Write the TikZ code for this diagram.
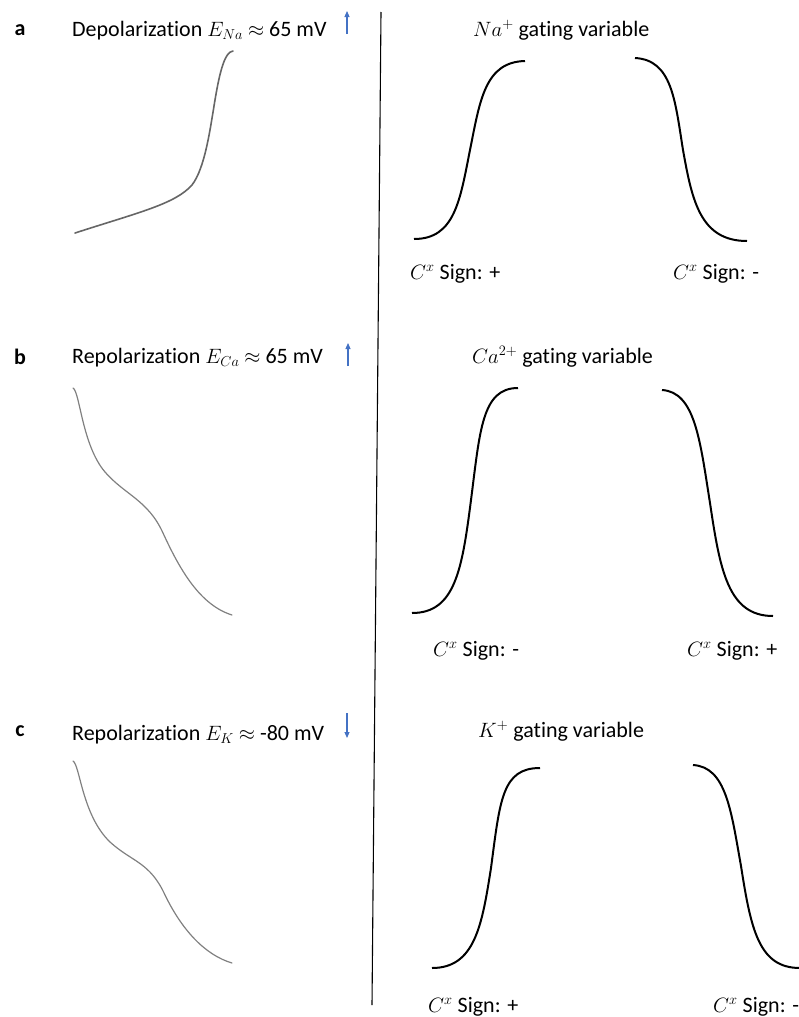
\documentclass[tikz,border=0pt]{standalone}
\usepackage{fontspec}
\setmainfont{Carlito}[Ligatures=NoCommon]
\usetikzlibrary{arrows.meta}
\begin{document}
\begin{tikzpicture}[x=1pt,y=-1pt,
  lbl/.style={inner sep=0pt,anchor=base west,font=\fontsize{22}{26}\selectfont},
  panel/.style={inner sep=0pt,anchor=base,font=\fontsize{22}{26}\selectfont\bfseries},
  volt/.style={draw=black!60,line width=1.6pt,line cap=round},
  vgray/.style={draw=black!50,line width=1.2pt,line cap=round},
  gate/.style={draw=black,line width=2pt},
  blu/.style={draw={rgb,255:red,68;green,114;blue,196},line width=1.1pt,-{Triangle[length=6pt,width=5pt]}}]
\useasboundingbox (0,0) rectangle (798,1017);
% divider
\coordinate (dtop) at (381,12);
\coordinate (dbot) at (372,1005);
\draw[line width=1.1pt] (dtop) -- (dbot);
% ---- panel a
\node[panel] (pa) at (20,35) {a};
\node[lbl] (ta) at (72,36) {Depolarization $E_{Na}$ $\approx$ 65 mV};
\coordinate (a1) at (347,34); \coordinate (a2) at (347,11);
\draw[blu] (a1) -- (a2);
\draw[volt] (75,233) .. controls (140,212) and (175,204) .. (192,185) .. controls (205,168) and (210,130) .. (215,100) .. controls (220,70) and (225,52) .. (233,51);
\node[lbl] (ga) at (473,36) {$Na^{+}$ gating variable};
\draw[gate] (414,239) .. controls (455,239) and (460,200) .. (470,150) .. controls (480,100) and (485,62) .. (525,61);
\draw[gate] (635,58) .. controls (672,60) and (675,100) .. (683,150) .. controls (692,200) and (700,241) .. (747,241);
\node[lbl] (sa1) at (410,279) {$C^{x}$ Sign: +};
\node[lbl] (sa2) at (673,279) {$C^{x}$ Sign: -};
% ---- panel b
\node[panel] (pb) at (20,364) {b};
\node[lbl] (tb) at (72,363) {Repolarization $E_{Ca}$ $\approx$ 65 mV};
\coordinate (b1) at (348,366); \coordinate (b2) at (348,343);
\draw[blu] (b1) -- (b2);
\draw[vgray] (73,388) .. controls (80,392) and (82,445) .. (105,472) .. controls (125,495) and (148,500) .. (163,533) .. controls (180,570) and (200,605) .. (232,615);
\node[lbl] (gb) at (472,363) {$Ca^{2+}$ gating variable};
\draw[gate] (412,613) .. controls (455,613) and (462,570) .. (471,500) .. controls (480,430) and (482,388) .. (518,388);
\draw[gate] (662,390) .. controls (695,392) and (700,440) .. (710,503) .. controls (720,570) and (728,616) .. (773,616);
\node[lbl] (sb1) at (433,656) {$C^{x}$ Sign: -};
\node[lbl] (sb2) at (687,656) {$C^{x}$ Sign: +};
% ---- panel c
\node[panel] (pc) at (20,736) {c};
\node[lbl] (tc) at (72,740) {Repolarization $E_{K}$ $\approx$ -80 mV};
\coordinate (c1) at (347,713); \coordinate (c2) at (347,738);
\draw[blu] (c1) -- (c2);
\draw[vgray] (73,761) .. controls (80,765) and (82,815) .. (110,842) .. controls (132,862) and (150,862) .. (165,895) .. controls (182,930) and (205,955) .. (232,963);
\node[lbl] (gc) at (478,737) {$K^{+}$ gating variable};
\draw[gate] (432,968) .. controls (475,968) and (482,925) .. (491,868) .. controls (500,800) and (502,768) .. (540,768);
\draw[gate] (693,765) .. controls (726,767) and (731,810) .. (741,866) .. controls (751,930) and (759,968) .. (800,968);
\node[lbl] (sc1) at (428,1012) {$C^{x}$ Sign: +};
\node[lbl] (sc2) at (713,1012) {$C^{x}$ Sign: -};
\end{tikzpicture}
\end{document}
